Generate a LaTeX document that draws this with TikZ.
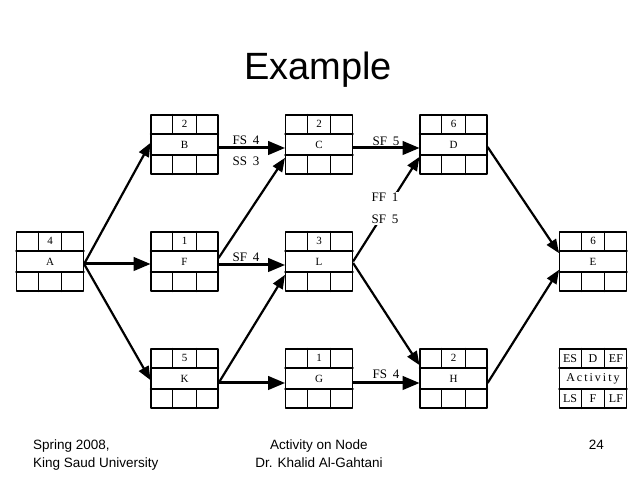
\documentclass[tikz,border=0pt]{standalone}
\usepackage{fontspec}
\setmainfont{Liberation Serif}
\newfontfamily\slidefont{Liberation Sans}
\usetikzlibrary{arrows, calc}

% activity box: name, centre, duration, activity
\newcommand{\actbox}[4]{%
  \node[actnode] (#1) at (#2) {};
  \draw[grid] ([yshift=-19.67pt]#1.north west) -- ([yshift=-19.67pt]#1.north east);
  \draw[grid] ([yshift=19.67pt]#1.south west) -- ([yshift=19.67pt]#1.south east);
  \draw[grid] ([xshift=22.33pt]#1.north west) -- ([xshift=22.33pt,yshift=-19.67pt]#1.north west);
  \draw[grid] ([xshift=-22.33pt]#1.north east) -- ([xshift=-22.33pt,yshift=-19.67pt]#1.north east);
  \draw[grid] ([xshift=22.33pt]#1.south west) -- ([xshift=22.33pt,yshift=19.67pt]#1.south west);
  \draw[grid] ([xshift=-22.33pt]#1.south east) -- ([xshift=-22.33pt,yshift=19.67pt]#1.south east);
  \node[boxtext] (#1-dur) at ([yshift=-9.83pt]#1.north) {#3};
  \node[boxtext] (#1-name) at (#1) {#4};
}

\begin{document}
\begin{tikzpicture}[line cap=round,line join=round,>=triangle 45,x=1pt,y=1pt,
  actnode/.style={draw,line width=1.2pt,minimum width=67pt,minimum height=59pt,inner sep=0pt},
  grid/.style={line width=1.2pt},
  boxtext/.style={font=\fontsize{11}{13}\selectfont,inner sep=0pt},
  keytext/.style={font=\fontsize{12}{14}\selectfont,inner sep=0pt},
  link/.style={->,line width=2.2pt,line cap=butt},
  boldlink/.style={->,line width=3pt,line cap=butt},
  lag/.style={font=\fontsize{13}{22}\selectfont,inner sep=1pt,align=center},
  footer/.style={font=\slidefont\fontsize{13.5}{18}\selectfont,inner sep=0pt}]
\useasboundingbox (0,0) rectangle (638,479);

\coordinate (pA) at (50, 217.5);
\coordinate (pB) at (184.5, 334.5);
\coordinate (pF) at (184.5, 217.5);
\coordinate (pK) at (184.5, 100.5);
\coordinate (pC) at (319, 334.5);
\coordinate (pL) at (319, 217.5);
\coordinate (pG) at (319, 100.5);
\coordinate (pD) at (453.5, 334.5);
\coordinate (pH) at (453.5, 100.5);
\coordinate (pE) at (593, 217.5);
\coordinate (pKey) at (593, 100.5);

\actbox{A}{pA}{4}{A}
\actbox{B}{pB}{2}{B}
\actbox{F}{pF}{1}{F}
\actbox{K}{pK}{5}{K}
\actbox{C}{pC}{2}{C}
\actbox{L}{pL}{3}{L}
\actbox{G}{pG}{1}{G}
\actbox{D}{pD}{6}{D}
\actbox{H}{pH}{2}{H}
\actbox{E}{pE}{6}{E}

% legend
\node[actnode] (key) at (pKey) {};
\draw[grid] ([yshift=-19.67pt]key.north west) -- ([yshift=-19.67pt]key.north east);
\draw[grid] ([yshift=19.67pt]key.south west) -- ([yshift=19.67pt]key.south east);
\draw[grid] ([xshift=22.33pt]key.north west) -- ([xshift=22.33pt,yshift=-19.67pt]key.north west);
\draw[grid] ([xshift=-22.33pt]key.north east) -- ([xshift=-22.33pt,yshift=-19.67pt]key.north east);
\draw[grid] ([xshift=22.33pt]key.south west) -- ([xshift=22.33pt,yshift=19.67pt]key.south west);
\draw[grid] ([xshift=-22.33pt]key.south east) -- ([xshift=-22.33pt,yshift=19.67pt]key.south east);
\node[keytext] (key-es) at ([xshift=11.17pt,yshift=-9.83pt]key.north west) {ES};
\node[keytext] (key-d) at ([yshift=-9.83pt]key.north) {D};
\node[keytext] (key-ef) at ([xshift=-11.17pt,yshift=-9.83pt]key.north east) {EF};
\node[keytext] (key-act) at (key) {A\,c\,t\,i\,v\,i\,t\,y};
\node[keytext] (key-ls) at ([xshift=11.17pt,yshift=9.83pt]key.south west) {LS};
\node[keytext] (key-f) at ([yshift=9.83pt]key.south) {F};
\node[keytext] (key-lf) at ([xshift=-11.17pt,yshift=9.83pt]key.south east) {LF};

% links
\draw[link] ([yshift=-2.5pt]A.east) -- ([yshift=1.5pt]B.west);
\draw[boldlink] ([yshift=-2.5pt]A.east) -- ([yshift=-2.5pt]F.west);
\draw[link] ([yshift=-2.5pt]A.east) -- ([yshift=-1.5pt]K.west);
\draw[boldlink] ([yshift=-3.5pt]B.east) -- ([yshift=-3.5pt]C.west);
\draw[boldlink] ([yshift=-3.5pt]C.east) -- ([yshift=-3.5pt]D.west);
\draw[link] ([yshift=3.5pt]F.east) -- ([yshift=-13.5pt]C.west);
\draw[boldlink] ([yshift=-3.5pt]F.east) -- ([yshift=-3.5pt]L.west);
\draw[link] ([yshift=-4.5pt]K.east) -- ([yshift=-13.5pt]L.west);
\draw[boldlink] ([yshift=-4.5pt]K.east) -- ([yshift=-4.5pt]G.west);
\draw[boldlink] ([yshift=-4.5pt]G.east) -- ([yshift=-4.5pt]H.west);
\draw[link] (L.east) -- ([yshift=-12.5pt]D.west);
\draw[link] ([yshift=-1.5pt]L.east) -- ([yshift=13.5pt]H.west);
\draw[link] ([yshift=-2.5pt]D.east) -- ([yshift=8.5pt]E.west);
\draw[link] ([yshift=-4.5pt]H.east) -- ([yshift=-8.5pt]E.west);

\begin{normalsize}
\node[lag] (lagBC1) at (246, 339) {FS\;\,4};
\node[lag] (lagBC2) at (246, 318) {SS\;\,3};
\node[lag] (lagCD) at (386, 338) {SF\;\,5};
\node[lag,fill=white] (lagLD) at (385, 270.5) {FF\;\,1\\SF\;\,5};
\node[lag] (lagFL) at (246, 221.5) {SF\;\,4};
\node[lag] (lagGH) at (386, 105) {FS\;\,4};

\node[font=\slidefont\fontsize{38}{44}\selectfont,anchor=base,inner sep=0pt] (title) at (318, 399) {Example};
\node[footer,anchor=base west] (where1) at (33, 29) {Spring 2008,};
\node[footer,anchor=base west] (where2) at (33, 11) {King Saud University};
\node[footer,anchor=base] (topic1) at (319, 29) {Activity on Node};
\node[footer,anchor=base] (topic2) at (319, 11) {Dr. Khalid Al-Gahtani};
\node[footer,anchor=base east] (page) at (604, 29) {24};
\end{normalsize}

\end{tikzpicture}
\end{document}
